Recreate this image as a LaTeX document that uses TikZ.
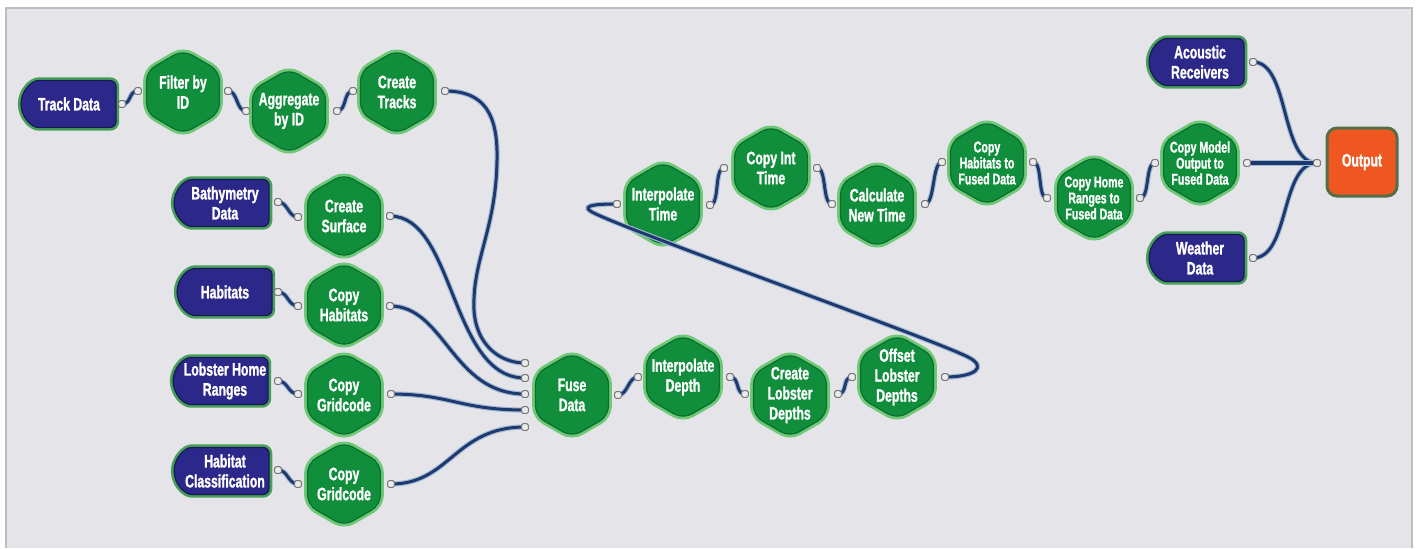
\documentclass[tikz,border=0pt]{standalone}
\usepackage{fontspec}
\setmainfont{Liberation Sans}[FakeStretch=0.68, BoldFeatures={FakeBold=1.2}]
\usetikzlibrary{shapes.misc}
\definecolor{bg}{RGB}{228,228,233}
\definecolor{frame}{RGB}{188,188,194}
\definecolor{wireblue}{RGB}{28,58,112}
\definecolor{wirehalo}{RGB}{165,185,210}
\definecolor{portgray}{RGB}{120,120,120}
\definecolor{portfill}{RGB}{235,235,235}
\definecolor{hexgreen}{RGB}{16,142,60}
\definecolor{hexedge}{RGB}{10,110,45}
\definecolor{hexglow}{RGB}{110,200,120}
\definecolor{pillblue}{RGB}{44,40,138}
\definecolor{pilledge}{RGB}{25,25,85}
\definecolor{pillglow}{RGB}{70,160,90}
\definecolor{outorange}{RGB}{238,88,32}
\definecolor{outedge}{RGB}{85,110,70}
\tikzset{
 wire/.style={line width=1.5pt, draw=wireblue, preaction={draw=wirehalo, line width=2.6pt}},
 port/.style={draw=portgray, fill=portfill, line width=0.5pt, minimum size=3.4pt, inner sep=0pt, rounded corners=0.8pt},
 hexsty/.style={fill=hexgreen, draw=hexedge, line width=0.6pt, rounded corners=5pt, preaction={draw=hexglow, line width=3.4pt}},
 lbl/.style={text=white, font=\bfseries\fontsize{9}{10}\selectfont, align=center, inner sep=0pt},
 lbls/.style={text=white, font=\bfseries\fontsize{7.8}{8}\selectfont, align=center, inner sep=0pt},
 pill/.style={rounded rectangle, rounded rectangle right arc=none, rounded corners=3pt, minimum width=47.5pt, minimum height=23.5pt, inner sep=0pt, fill=pillblue, draw=pilledge, line width=0.6pt, preaction={draw=pillglow, line width=3.2pt}, text=white, font=\bfseries\fontsize{9}{10}\selectfont, align=center},
 outbox/.style={rectangle, rounded corners=5pt, minimum width=35pt, minimum height=34pt, fill=outorange, draw=outedge, line width=1.5pt, text=white, font=\bfseries\fontsize{9}{10}\selectfont},
}
\newcommand\hexn[4][lbl]{%
  \draw[hexsty] (#3) ++(0,-42) -- ++(36.5,21) -- ++(0,42) -- ++(-36.5,21) -- ++(-36.5,-21) -- ++(0,-42) -- cycle;
  \node[#1] (#2) at (#3) {#4};}
\begin{document}
\begin{tikzpicture}[x=0.5pt,y=-0.5pt]
\useasboundingbox (0,0) rectangle (1416,548);
\fill[white] (0,0) rectangle (1416,548);
\fill[bg] (6,8) rectangle (1412,548);
\draw[frame, line width=1pt] (6,548) -- (6,8) -- (1412,8) -- (1412,548);

% ---- nodes ----
\node[pill] (track) at (69,104) {Track Data};
\hexn{filt}{183,92}{Filter by\\ID}
\hexn{aggr}{289,111}{Aggregate\\by ID}
\hexn{ctrk}{397,92}{Create\\Tracks}

\node[pill] (bathy) at (225,203) {Bathymetry\\Data};
\hexn{csurf}{344,216}{Create\\Surface}
\node[pill] (habit) at (225,292) {Habitats};
\hexn{chab}{344,305}{Copy\\Habitats}
\node[pill] (lobst) at (225,381) {Lobster Home\\Ranges};
\hexn{cgca}{344,395}{Copy\\Gridcode}
\node[pill] (hclass) at (225,471) {Habitat\\Classification};
\hexn{cgcb}{344,484}{Copy\\Gridcode}

\hexn{fuse}{572,395}{Fuse\\Data}
\hexn{idep}{683,377}{Interpolate\\Depth}
\hexn{cld}{790,395}{Create\\Lobster\\Depths}
\hexn{old}{897,377}{Offset\\Lobster\\Depths}

\hexn{itime}{663,204}{Interpolate\\Time}
\hexn{cint}{771,168}{Copy Int\\Time}
\hexn{cnt}{877,205}{Calculate\\New Time}
\hexn[lbls]{chfd}{987,163}{Copy\\Habitats to\\Fused Data}
\hexn[lbls]{chrf}{1094,198}{Copy Home\\Ranges to\\Fused Data}
\hexn[lbls]{cmof}{1200,163}{Copy Model\\Output to\\Fused Data}

\node[pill] (acou) at (1200,62) {Acoustic\\Receivers};
\node[pill] (weath) at (1200,258) {Weather\\Data};
\node[outbox] (outp) at (1362,162) {Output};

% ---- port coordinates ----
\coordinate (track-r) at (122,104);
\coordinate (filt-l) at (138,91); \coordinate (filt-r) at (228,91);
\coordinate (aggr-l) at (246,111); \coordinate (aggr-r) at (337,111);
\coordinate (ctrk-l) at (353,91); \coordinate (ctrk-r) at (445,91);
\coordinate (bathy-r) at (278,202); \coordinate (csurf-l) at (298,217); \coordinate (csurf-r) at (390,216);
\coordinate (habit-r) at (278,292); \coordinate (chab-l) at (298,306); \coordinate (chab-r) at (390,306);
\coordinate (lobst-r) at (278,381); \coordinate (cgca-l) at (298,394); \coordinate (cgca-r) at (391,394);
\coordinate (hclass-r) at (278,470); \coordinate (cgcb-l) at (298,484); \coordinate (cgcb-r) at (391,484);
\coordinate (fuse-a) at (525,363); \coordinate (fuse-b) at (525,378); \coordinate (fuse-c) at (525,394);
\coordinate (fuse-d) at (525,410); \coordinate (fuse-e) at (525,427); \coordinate (fuse-r) at (618,395);
\coordinate (idep-l) at (638,377); \coordinate (idep-r) at (730,377);
\coordinate (cld-l) at (745,394); \coordinate (cld-r) at (838,394);
\coordinate (old-l) at (852,377); \coordinate (old-r) at (945,377);
\coordinate (itime-l) at (617,204); \coordinate (itime-r) at (710,205);
\coordinate (cint-l) at (724,168); \coordinate (cint-r) at (817,168);
\coordinate (cnt-l) at (832,204); \coordinate (cnt-r) at (925,204);
\coordinate (chfd-l) at (942,162); \coordinate (chfd-r) at (1033,162);
\coordinate (chrf-l) at (1047,198); \coordinate (chrf-r) at (1140,198);
\coordinate (cmof-l) at (1155,163); \coordinate (cmof-r) at (1247,163);
\coordinate (acou-r) at (1253,62); \coordinate (weath-r) at (1253,258);
\coordinate (outp-l) at (1317,163);

% ---- wires ----
\foreach \a/\b in {track-r/filt-l, filt-r/aggr-l, aggr-r/ctrk-l, bathy-r/csurf-l, habit-r/chab-l,
  lobst-r/cgca-l, hclass-r/cgcb-l, fuse-r/idep-l, idep-r/cld-l, cld-r/old-l,
  itime-r/cint-l, cint-r/cnt-l, cnt-r/chfd-l, chfd-r/chrf-l, chrf-r/cmof-l}
  \draw[wire] (\a) .. controls +(10,0) and +(-10,0) .. (\b);

\draw[wire] (ctrk-r) .. controls (485,91) and (498,115) .. (497,160)
  .. controls (496,230) and (472,260) .. (474,310)
  .. controls (476,345) and (500,363) .. (fuse-a);
\draw[wire] (csurf-r) .. controls (455,216) and (450,378) .. (fuse-b);
\draw[wire] (chab-r) .. controls (445,306) and (452,394) .. (fuse-c);
\draw[wire] (cgca-r) .. controls (450,394) and (460,410) .. (fuse-d);
\draw[wire] (cgcb-r) .. controls (450,484) and (455,427) .. (fuse-e);

\draw[wire] (old-r) .. controls (975,377) and (988,367) .. (968,357)
  .. controls (930,338) and (640,235) .. (596,214)
  .. controls (578,206) and (592,204) .. (itime-l);

\draw[wire] (acou-r) .. controls (1290,62) and (1280,163) .. (outp-l);
\draw[wire] (weath-r) .. controls (1290,258) and (1280,163) .. (outp-l);
\draw[wire, line width=2pt] (cmof-r) -- (outp-l);

% ---- ports ----
\foreach \p in {track-r, filt-l, filt-r, aggr-l, aggr-r, ctrk-l, ctrk-r,
  bathy-r, csurf-l, csurf-r, habit-r, chab-l, chab-r, lobst-r, cgca-l, cgca-r,
  hclass-r, cgcb-l, cgcb-r, fuse-a, fuse-b, fuse-c, fuse-d, fuse-e, fuse-r,
  idep-l, idep-r, cld-l, cld-r, old-l, old-r, itime-l, itime-r, cint-l, cint-r,
  cnt-l, cnt-r, chfd-l, chfd-r, chrf-l, chrf-r, cmof-l, cmof-r, acou-r, weath-r, outp-l}
  \node[port] (\p-pt) at (\p) {};
\end{tikzpicture}
\end{document}
